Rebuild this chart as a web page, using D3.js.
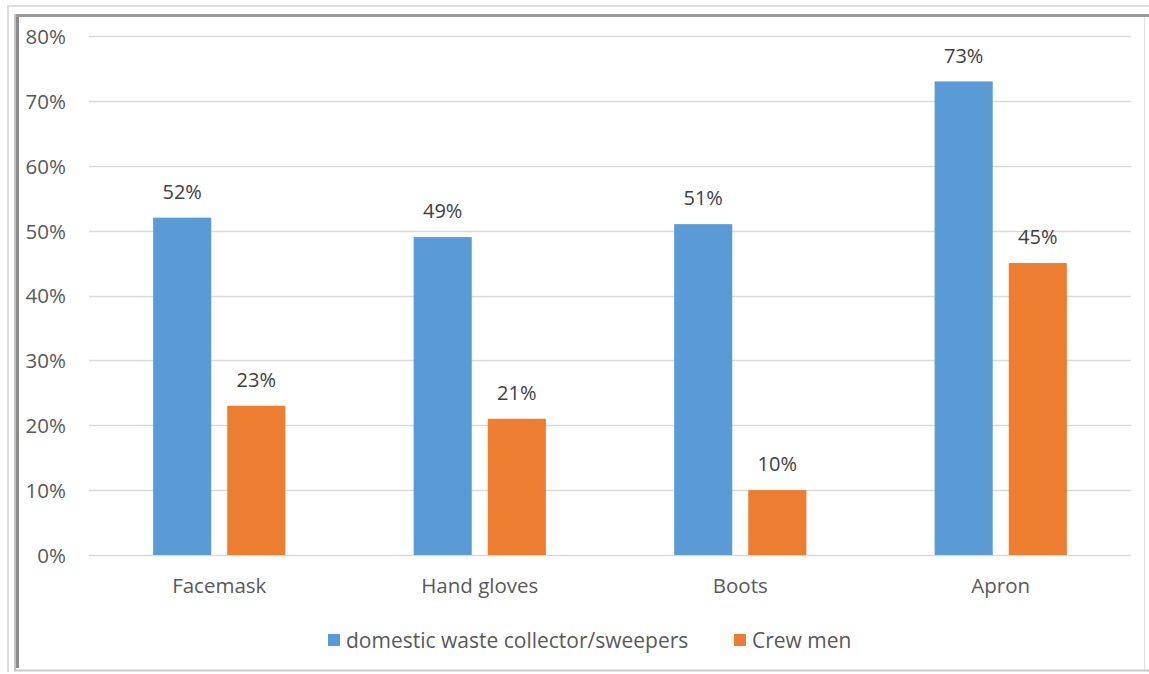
<!DOCTYPE html>
<html>
<head>
<meta charset="utf-8">
<script src="https://cdn.jsdelivr.net/npm/d3@7"></script>
<style>
  html, body { margin: 0; padding: 0; background: #fff; }
  svg { display: block; }
  svg text { font-family: "Open Sans", "Noto Sans", sans-serif; }
</style>
</head>
<body>
<svg id="chart" width="1149" height="674"></svg>
<script>
// PPE usage by item and worker group
const categories = ["Facemask", "Hand gloves", "Boots", "Apron"];
const seriesNames = ["domestic waste collector/sweepers", "Crew men"];
const collectors = [52, 49, 51, 73];
const crewMen = [23, 21, 10, 45];
const yTicks = [0, 10, 20, 30, 40, 50, 60, 70, 80];
const colors = ["#5b9bd5", "#ed7d31"];

const svg = d3.select("#chart");
const W = 1149, H = 674;
const FONT = "'Open Sans', 'Noto Sans', sans-serif";

// Frame with a beveled look
svg.append("rect").attr("x", 0).attr("y", 0).attr("width", W).attr("height", H).attr("fill", "#fff");
svg.append("line").attr("x1", 7).attr("x2", W).attr("y1", 6).attr("y2", 6).attr("stroke", "#dcdcdc").attr("stroke-width", 2);
svg.append("line").attr("x1", 8).attr("x2", 8).attr("y1", 6).attr("y2", 672).attr("stroke", "#dcdcdc").attr("stroke-width", 2);
svg.append("line").attr("x1", 14).attr("x2", W).attr("y1", 15.5).attr("y2", 15.5).attr("stroke", "#9a9a9a").attr("stroke-width", 3);
svg.append("line").attr("x1", 15).attr("x2", 15).attr("y1", 14).attr("y2", 670).attr("stroke", "#c4c4c4").attr("stroke-width", 2);
svg.append("line").attr("x1", 17.5).attr("x2", 17.5).attr("y1", 17).attr("y2", 668).attr("stroke", "#8c8c8c").attr("stroke-width", 3);
svg.append("line").attr("x1", 14).attr("x2", W).attr("y1", 670.5).attr("y2", 670.5).attr("stroke", "#c8c8c8").attr("stroke-width", 2);
svg.append("line").attr("x1", 1144.5).attr("x2", 1144.5).attr("y1", 17).attr("y2", 670).attr("stroke", "#e0e0e0").attr("stroke-width", 1);

const plotLeft = 89, plotRight = 1131, plotTop = 36, plotBottom = 555;

const x = d3.scaleBand().domain(categories).range([plotLeft, plotRight]).paddingInner(0).paddingOuter(0);
const y = d3.scaleLinear().domain([0, 80]).range([plotBottom, plotTop]);

// Gridlines
svg.append("g").selectAll("line").data(yTicks).join("line")
  .attr("x1", plotLeft).attr("x2", plotRight)
  .attr("y1", d => Math.round(y(d)) + 0.5).attr("y2", d => Math.round(y(d)) + 0.5)
  .attr("stroke", "#d9d9d9").attr("stroke-width", 1.3);

// Y axis labels
const yAxis = d3.axisLeft(y).tickValues(yTicks).tickFormat(d => d + "%").tickSize(0).tickPadding(0);
const yg = svg.append("g").attr("transform", `translate(${66},0)`).call(yAxis)
  .attr("font-family", FONT).attr("font-size", 20.5);
yg.select(".domain").remove();
yg.selectAll("text").attr("fill", "#595959").attr("dy", "0.36em");

// X axis labels
const xAxis = d3.axisBottom(x).tickSize(0).tickPadding(0);
const xg = svg.append("g").attr("transform", `translate(0,${plotBottom + 31})`).call(xAxis)
  .attr("font-family", FONT).attr("font-size", 20.5);
xg.select(".domain").remove();
xg.selectAll("text").attr("fill", "#595959").attr("dy", "0.36em");

// Bars
const bw = x.bandwidth();
const barW = bw * 0.223;
const gap = bw * 0.0615;
const groupOffset = (bw - 2 * barW - gap) / 2;
const seriesData = [collectors, crewMen];

seriesData.forEach((vals, si) => {
  const g = svg.append("g");
  const bx = (c) => x(c) + groupOffset + si * (barW + gap);
  g.selectAll("rect").data(categories).join("rect")
    .attr("x", c => bx(c))
    .attr("width", barW)
    .attr("y", (c, i) => y(vals[i]))
    .attr("height", (c, i) => y(0) - y(vals[i]))
    .attr("fill", colors[si]);
  g.selectAll("text").data(categories).join("text")
    .attr("x", c => bx(c) + barW / 2)
    .attr("y", (c, i) => y(vals[i]) - 26)
    .attr("text-anchor", "middle")
    .attr("dy", "0.36em")
    .attr("font-size", 20)
    .attr("fill", "#404040")
    .text((c, i) => vals[i] + "%");
});

// Legend
const legendItems = [
  { name: seriesNames[0], color: colors[0], x: 328 },
  { name: seriesNames[1], color: colors[1], x: 734 }
];
const lg = svg.append("g");
legendItems.forEach(it => {
  lg.append("rect").attr("x", it.x).attr("y", 634).attr("width", 12).attr("height", 12).attr("fill", it.color);
  lg.append("text").attr("x", it.x + 18).attr("y", 640).attr("dy", "0.36em")
    .attr("font-size", 21).attr("fill", "#595959").text(it.name);
});
</script>
</body>
</html>
